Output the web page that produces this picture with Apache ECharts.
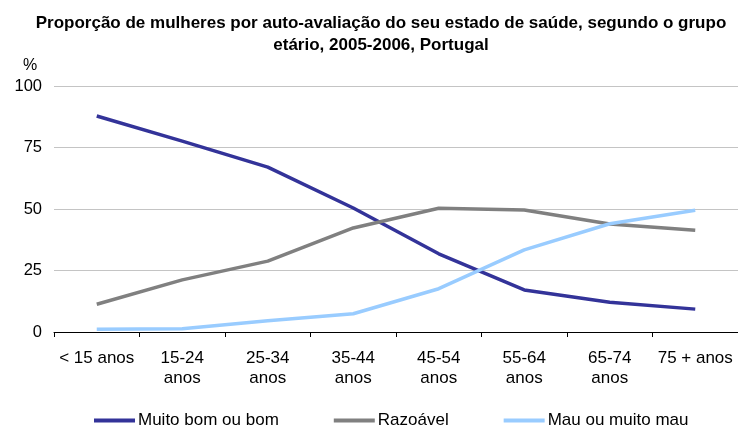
<!DOCTYPE html>
<html><head><meta charset="utf-8">
<script src="https://cdn.jsdelivr.net/npm/echarts@6/dist/echarts.min.js"></script>
<style>html,body{margin:0;padding:0;background:#fff}#c{width:738px;height:430px}</style>
</head><body><div id="c"></div>
<script>
const categories = ['< 15 anos', '15-24\nanos', '25-34\nanos', '35-44\nanos', '45-54\nanos', '55-64\nanos', '65-74\nanos', '75 + anos'];
const muitoBom = [87.8, 77.6, 67.0, 50.4, 31.8, 17.1, 12.1, 9.3];
const razoavel = [11.3, 21.2, 28.8, 42.3, 50.3, 49.6, 43.9, 41.4];
const mau = [1.1, 1.3, 4.6, 7.4, 17.6, 33.4, 44.0, 49.5];
const yTicks = [0, 25, 50, 75, 100];
const FONT = 'Liberation Sans, Arial, sans-serif';

const chart = echarts.init(document.getElementById('c'));
chart.setOption({
  animation: false,
  textStyle: { fontFamily: FONT },
  title: {
    text: 'Proporção de mulheres por auto-avaliação do seu estado de saúde, segundo o grupo\netário, 2005-2006, Portugal',
    left: 381, top: 12, textAlign: 'center', padding: 0,
    textStyle: { fontFamily: FONT, fontSize: 17, fontWeight: 'bold', color: '#000', lineHeight: 22 }
  },
  graphic: [{ type: 'text', left: 23, top: 58, style: { text: '%', font: '16px ' + FONT, fill: '#000' } }],
  legend: {
    top: 412, left: 94, itemGap: 55, itemWidth: 41, itemHeight: 4, icon: 'rect', padding: 0,
    textStyle: { fontFamily: FONT, fontSize: 17, color: '#000', padding: [0, 0, 0, -2] },
    data: ['Muito bom ou bom', 'Razoável', 'Mau ou muito mau']
  },
  grid: { left: 54, right: 0, top: 86, bottom: 98, containLabel: false },
  xAxis: {
    type: 'category', data: categories, boundaryGap: true,
    axisLine: { lineStyle: { color: '#000', width: 1 } },
    axisTick: { show: true, length: 5, lineStyle: { color: '#000' }, alignWithLabel: false },
    axisLabel: { color: '#000', fontSize: 17, lineHeight: 20, margin: 16, interval: 0, fontFamily: FONT }
  },
  yAxis: {
    type: 'value', min: 0, max: 100, interval: 25,
    axisLine: { show: false }, axisTick: { show: false },
    splitLine: { lineStyle: { color: '#c4c4c4', width: 1 } },
    axisLabel: { color: '#000', fontSize: 16.5, margin: 12, fontFamily: FONT,
      formatter: v => yTicks.includes(v) ? String(v) : '' }
  },
  series: [
    { name: 'Muito bom ou bom', type: 'line', data: muitoBom, symbol: 'none', lineStyle: { color: '#333399', width: 3.5 }, itemStyle: { color: '#333399' } },
    { name: 'Razoável', type: 'line', data: razoavel, symbol: 'none', lineStyle: { color: '#808080', width: 3.5 }, itemStyle: { color: '#808080' } },
    { name: 'Mau ou muito mau', type: 'line', data: mau, symbol: 'none', lineStyle: { color: '#99ccff', width: 3.5 }, itemStyle: { color: '#99ccff' } }
  ]
});
</script></body></html>
